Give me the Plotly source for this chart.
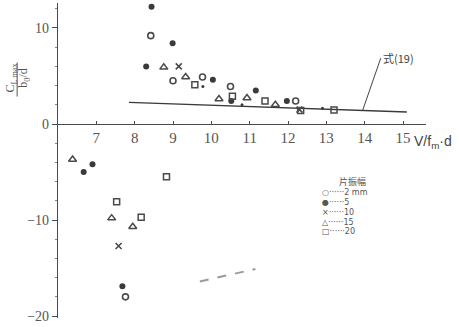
import plotly.graph_objects as go

# ---- data ----
amp2_x = [8.42, 9.0, 9.77, 10.5, 12.2, 7.76]
amp2_y = [9.2, 4.5, 4.9, 3.9, 2.4, -18.0]

amp5_x = [8.44, 8.99, 8.3, 10.04, 11.16, 10.52, 11.97, 6.9, 6.67, 7.68]
amp5_y = [12.2, 8.4, 6.0, 4.6, 3.5, 2.4, 2.4, -4.2, -5.0, -16.9]

dot_x = [9.78, 10.8, 12.9]
dot_y = [3.9, 2.0, 1.65]

amp10_x = [9.15, 7.58, 12.3]
amp10_y = [6.0, -12.7, 1.5]

amp15_x = [8.76, 9.33, 10.2, 10.93, 11.67, 6.38, 7.4, 7.95]
amp15_y = [5.9, 4.9, 2.6, 2.7, 2.0, -3.7, -9.8, -10.7]

amp20_x = [9.57, 10.55, 11.4, 12.33, 13.2, 7.53, 8.17, 8.83]
amp20_y = [4.1, 2.9, 2.4, 1.4, 1.45, -8.1, -9.7, -5.5]

eq19_x = [7.85, 15.1]
eq19_y = [2.25, 1.25]

smudge_x = [9.7, 11.15]
smudge_y = [-16.4, -15.1]

x_ticks = [7, 8, 9, 10, 11, 12, 13, 14, 15]
y_ticks = [-20, -10, 0, 10]

legend_title = "片振幅"
legend_rows = ["○······2 mm", "●······5", "×······10", "△······15", "□······20"]

INK = "#4a4a4a"
SERIF = "Liberation Serif"

fig = go.Figure()

fig.add_trace(go.Scatter(x=smudge_x, y=smudge_y, mode="lines",
                         line=dict(color="#9a9a9a", width=2, dash="dash"), hoverinfo="skip"))
fig.add_trace(go.Scatter(x=eq19_x, y=eq19_y, mode="lines",
                         line=dict(color="#3a3a3a", width=1.3)))
fig.add_trace(go.Scatter(x=amp2_x, y=amp2_y, mode="markers",
                         marker=dict(symbol="circle-open", size=6, color=INK, line=dict(width=1.6))))
fig.add_trace(go.Scatter(x=amp5_x, y=amp5_y, mode="markers",
                         marker=dict(symbol="circle", size=6, color="#3a3a3a")))
fig.add_trace(go.Scatter(x=dot_x, y=dot_y, mode="markers",
                         marker=dict(symbol="circle", size=3, color="#3a3a3a")))
fig.add_trace(go.Scatter(x=amp10_x, y=amp10_y, mode="markers",
                         marker=dict(symbol="x-thin-open", size=6, color=INK, line=dict(width=1.6))))
fig.add_trace(go.Scatter(x=amp15_x, y=amp15_y, mode="markers",
                         marker=dict(symbol="triangle-up-open", size=7, color=INK, line=dict(width=1.5))))
fig.add_trace(go.Scatter(x=amp20_x, y=amp20_y, mode="markers",
                         marker=dict(symbol="square-open", size=6, color=INK, line=dict(width=1.5))))

y_lo, y_hi = -20.2, 12.6
zero_pos = (0 - y_lo) / (y_hi - y_lo)

fig.update_layout(
    width=459, height=327,
    margin=dict(l=58, r=33, t=3, b=7),
    paper_bgcolor="white", plot_bgcolor="white",
    showlegend=False,
    xaxis=dict(range=[6, 15.6], anchor="free", position=zero_pos,
               tickvals=x_ticks, ticks="inside", ticklen=3, tickcolor=INK,
               showline=True, linecolor=INK, linewidth=1.2, showgrid=False, zeroline=False,
               tickfont=dict(family=SERIF, size=15, color="#555")),
    yaxis=dict(range=[y_lo, y_hi], tickvals=y_ticks, ticks="outside", ticklen=5,
               tickcolor=INK, showline=True, linecolor=INK, linewidth=1.2,
               showgrid=False, zeroline=False,
               minor=dict(dtick=2, ticks="outside", ticklen=2, tickcolor="#888"),
               tickfont=dict(family=SERIF, size=14, color="#555")),
)

# y-axis title: rotated fraction
fig.add_annotation(xref="paper", yref="paper", x=-0.128, y=0.763, xanchor="center", yanchor="middle",
                   text="C<sub>L max</sub>", textangle=-90, showarrow=False,
                   font=dict(family=SERIF, size=12, color="#555"))
fig.add_annotation(xref="paper", yref="paper", x=-0.092, y=0.763, xanchor="center", yanchor="middle",
                   text="b<sub>0</sub>/d", textangle=-90, showarrow=False,
                   font=dict(family=SERIF, size=12, color="#555"))
fig.add_shape(type="line", xref="paper", yref="paper", x0=-0.111, x1=-0.111, y0=0.703, y1=0.811,
              line=dict(color="#555", width=1))

# x-axis title
fig.add_annotation(xref="paper", yref="paper", x=0.962, y=zero_pos - 0.058, xanchor="left", yanchor="middle",
                   text="V/f<sub>m</sub>·d", showarrow=False,
                   font=dict(family="Liberation Sans", size=14, color="#444"))

# equation label with leader
fig.add_annotation(x=13.95, y=1.45, text="式(19)", showarrow=True, arrowhead=0, arrowwidth=1,
                   arrowcolor="#444", ax=18, ay=-52, xanchor="left",
                   font=dict(family="Noto Sans CJK JP", size=11, color="#444"))

# hand-made legend
fig.add_annotation(xref="paper", yref="paper", x=0.80, y=0.432, xanchor="center", yanchor="middle",
                   text=legend_title, showarrow=False,
                   font=dict(family="Noto Sans CJK JP", size=9, color="#555"))
for i, row in enumerate(legend_rows):
    fig.add_annotation(xref="paper", yref="paper", x=0.712, y=0.3975 - i * 0.031,
                       xanchor="left", yanchor="middle", text=row, showarrow=False,
                       font=dict(family="DejaVu Sans", size=8, color="#555"))

fig.write_html("out.html")
